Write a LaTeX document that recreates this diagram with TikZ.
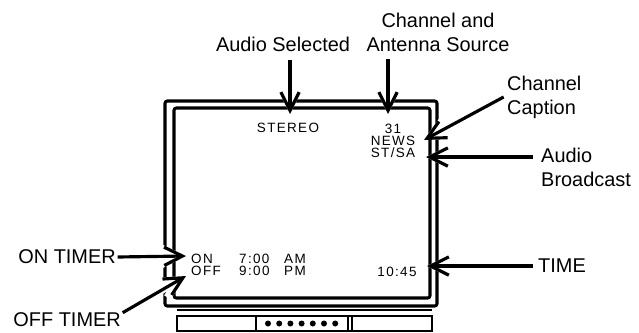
\documentclass[tikz,border=0pt]{standalone}
\usepackage{fontspec}
\setmainfont{Liberation Sans}
\newfontfamily\osdfont[LetterSpace=10]{Liberation Sans}
\usetikzlibrary{positioning,arrows.meta}

\begin{document}
\begin{tikzpicture}[
  x=0.3mm, y=-0.3mm,
  callout/.style={font=\fontsize{17}{20.4}\selectfont, inner sep=0pt, align=left},
  osd/.style={font=\osdfont\fontsize{11.5}{10.4}\selectfont, inner sep=0pt, align=center},
  tvline/.style={draw, line width=2.6pt, rounded corners=2pt},
  baseline/.style={draw, line width=2pt},
  arr/.style={line width=2.7pt, -{Straight Barb[length=5.5mm, width=5.5mm]},
    preaction={draw=white, line width=6.5pt, -{Straight Barb[length=5.5mm, width=5.5mm]}}}
]
\useasboundingbox (0,0) rectangle (639,333);
\draw[tvline] (165,101) rectangle (437,306);
\draw[tvline] (174,108) rectangle (430,298);
\draw[baseline] (177,310) -- (432,310);
\draw[baseline] (177,316) rectangle (432,331);
\draw[baseline] (256,316) -- (256,331);
\draw[baseline] (348,316) -- (348,331);
\draw[baseline] (352,316) -- (352,331);
\foreach \i in {0,...,6}
  \fill (268+\i*11.2,323.5) circle[radius=3];
\coordinate (tipaudio) at (290,114);
\coordinate (tipchan)  at (388,114);
\coordinate (tipcap)   at (424,140);
\coordinate (tipbcast) at (426,157);
\coordinate (tipon)    at (186,256);
\coordinate (tipoff)   at (186,276);
\coordinate (tiptime)  at (427,266);
\node[callout] (audiosel) at (283,44) {Audio Selected};
\node[callout, align=center] (chansrc) at (438,32) {Channel and\\Antenna Source};
\node[callout, anchor=west] (chancap) at (507,97) {Channel\\Caption};
\node[callout, anchor=north west] (audiobc) at (541,148) {Audio\\Broadcast};
\node[callout, anchor=east] (ontimer) at (116,257) {ON TIMER};
\node[callout, anchor=east] (offtimer) at (121,320) {OFF TIMER};
\node[callout, anchor=west] (timelbl) at (538,266) {TIME};
\draw[arr] ([yshift=-2.4mm]audiosel.south -| tipaudio) -- (tipaudio);
\draw[arr] ([yshift=-2.4mm]chansrc.south -| tipchan) -- (tipchan);
\draw[arr] ([xshift=-1mm]chancap.west) -- (tipcap);
\draw[arr] ([xshift=-2.4mm]audiobc.west |- tipbcast) -- (tipbcast);
\draw[arr] ([xshift=0.5mm]ontimer.east) -- (tipon);
\draw[arr] ([xshift=0.5mm]offtimer.north east) -- (tipoff);
\draw[arr] ([xshift=-1.5mm]timelbl.west) -- (tiptime);
\node[osd] (stereo) at (288,128) {STEREO};
\node[osd] (chaninfo) at (393,141) {31\\NEWS\\ST/SA};
\node[osd, anchor=west, align=left] (timers) at (191,265)
  {\makebox[14.4mm][l]{ON}\makebox[13.5mm][l]{7:00}AM\\
   \makebox[14.4mm][l]{OFF}\makebox[13.5mm][l]{9:00}PM};
\node[osd] (clock) at (397,272) {10:45};
\end{tikzpicture}
\end{document}
